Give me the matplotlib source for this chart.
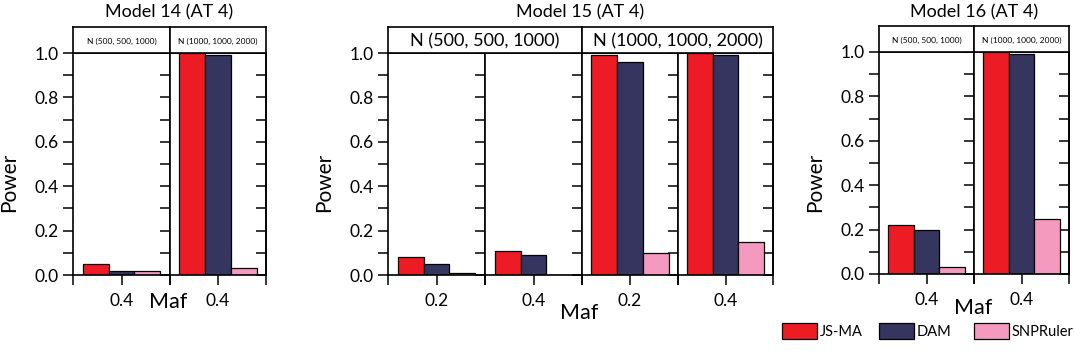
import matplotlib
matplotlib.use("Agg")
import matplotlib.pyplot as plt
import numpy as np

plt.rcParams['font.family'] = ['Lato', 'DejaVu Sans']

W, H = 1074, 351

methods = ["JS-MA", "DAM", "SNPRuler"]
colors = ["#ED1C24", "#35355F", "#F49AC1"]

n_labels = ["N (500, 500, 1000)", "N (1000, 1000, 2000)"]

# Model 14
m14_maf = ["0.4", "0.4"]
m14_jsma = [0.05, 1.00]
m14_dam = [0.02, 0.99]
m14_snpruler = [0.02, 0.03]

# Model 15
m15_maf = ["0.2", "0.4", "0.2", "0.4"]
m15_jsma = [0.08, 0.11, 0.99, 1.00]
m15_dam = [0.05, 0.09, 0.96, 0.99]
m15_snpruler = [0.01, 0.00, 0.10, 0.15]

# Model 16
m16_maf = ["0.4", "0.4"]
m16_jsma = [0.22, 1.00]
m16_dam = [0.20, 0.99]
m16_snpruler = [0.03, 0.25]

fig = plt.figure(figsize=(W / 100, H / 100), dpi=100)


def px_axes(x0, y0, x1, y1):
    return fig.add_axes([x0 / W, 1 - y1 / H, (x1 - x0) / W, (y1 - y0) / H])


def draw_panel(title, edges, top, bottom, maf, series, strip_fs, power_x, maf_xy):
    bw = 0.268
    offs = [-bw, 0, bw]
    nfac = len(edges) - 1
    per_strip = nfac // 2
    axes = []
    for i in range(nfac):
        ax = px_axes(edges[i], top, edges[i + 1], bottom)
        for k in range(3):
            ax.bar(offs[k], series[k][i], width=bw, color=colors[k],
                   edgecolor="black", linewidth=0.9, label=methods[k])
        ax.set_xlim(-0.5, 0.5)
        ax.set_ylim(0, 1.0)
        ax.set_xticks([-0.5, 0, 0.5])
        ax.set_xticklabels(["", maf[i], ""], fontsize=12.5)
        ax.set_yticks(np.arange(0, 1.01, 0.2))
        ax.set_yticks(np.arange(0.1, 1.0, 0.2), minor=True)
        ax.tick_params(which="both", direction="out", length=7, width=1.1, pad=3)
        ax.tick_params(axis="x", pad=6)
        ax.tick_params(axis="y", labelsize=12.5)
        if i > 0:
            ax.set_yticklabels([])
        else:
            ax.set_yticklabels(["0.0", "0.2", "0.4", "0.6", "0.8", "1.0"])
        for s in ax.spines.values():
            s.set_linewidth(1.2)
        if i == nfac - 1:
            sec = ax.secondary_yaxis("right")
            sec.set_yticks(np.arange(0, 1.01, 0.1))
            sec.tick_params(direction="in", length=7, width=1.1, labelright=False)
            sec.spines["right"].set_linewidth(1.2)
        axes.append(ax)
    for j in range(2):
        x0 = edges[j * per_strip]
        x1 = edges[(j + 1) * per_strip]
        st = px_axes(x0, top - 26, x1, top)
        st.set_xticks([])
        st.set_yticks([])
        for s in st.spines.values():
            s.set_linewidth(1.2)
        st.text(0.5, 0.45, n_labels[j], ha="center", va="center",
                fontsize=strip_fs, transform=st.transAxes)
    cx = (edges[0] + edges[-1]) / 2
    fig.text(cx / W, 1 - 12 / H, title, ha="center", va="center", fontsize=13)
    fig.text(power_x / W, 1 - 182 / H, "Power", rotation=90, ha="center",
             va="center", fontsize=15)
    fig.text(maf_xy[0] / W, 1 - maf_xy[1] / H, "Maf", ha="center", va="center",
             fontsize=15.5)
    return axes


ax14 = draw_panel("Model 14 (AT 4)", [73, 170, 266], 53, 275, m14_maf,
                  [m14_jsma, m14_dam, m14_snpruler], 6, 9, (168, 302))
ax15 = draw_panel("Model 15 (AT 4)", [388, 485, 582, 678, 773], 53, 275, m15_maf,
                  [m15_jsma, m15_dam, m15_snpruler], 13, 324, (579, 313))
ax16 = draw_panel("Model 16 (AT 4)", [879, 974, 1069], 52, 274, m16_maf,
                  [m16_jsma, m16_dam, m16_snpruler], 6, 815, (973, 308))

handles, labels = ax16[0].get_legend_handles_labels()
legend_x = [782, 879, 974]
for h, lab, lx in zip(handles, labels, legend_x):
    fig.legend([h], [lab], loc="center left",
               bbox_to_anchor=(lx / W, 1 - 331 / H), frameon=False,
               fontsize=10.5, handlelength=2.4, handleheight=1.25,
               handletextpad=0.2, borderpad=0, borderaxespad=0)

fig.savefig("out.png", dpi=100)
